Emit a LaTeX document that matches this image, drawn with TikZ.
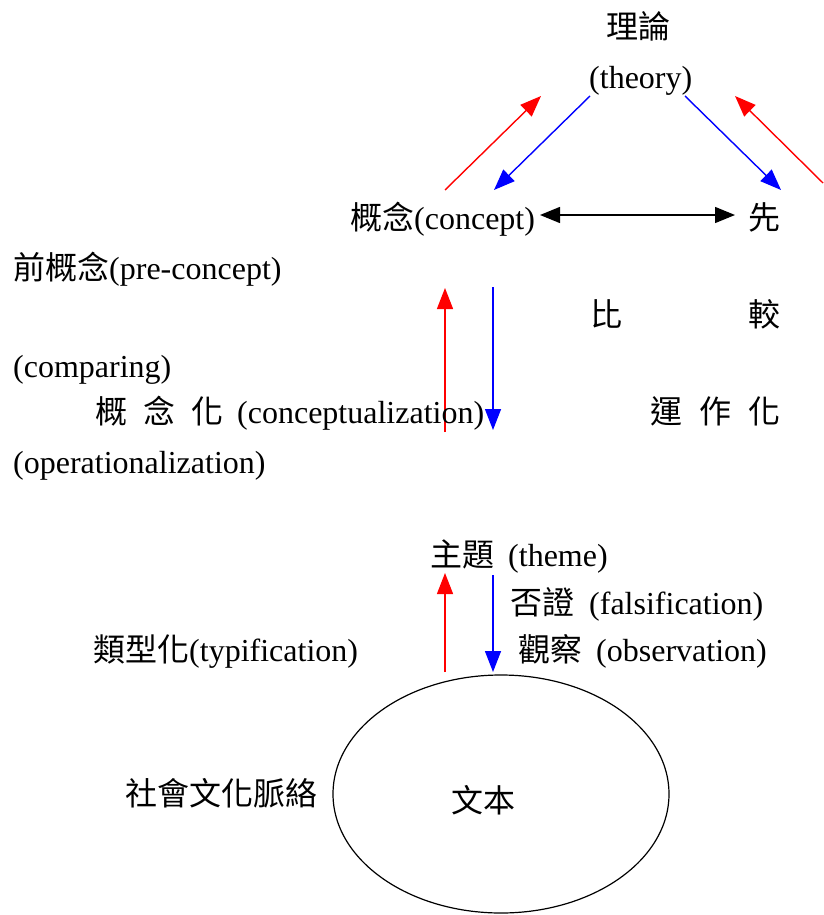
\documentclass[tikz,border=0pt]{standalone}
\usepackage{fontspec}
\setmainfont{Liberation Serif}
\newfontfamily\cjk{Noto Sans CJK TC}
\usepackage{tikz}
\usetikzlibrary{arrows.meta, shapes.geometric}
\pgfdeclarelayer{edgelayer}
\pgfdeclarelayer{nodelayer}
\pgfsetlayers{edgelayer,nodelayer,main}
\newcommand{\zh}[1]{{\cjk #1}}
\tikzstyle{none}=[inner sep=0pt]
\tikzstyle{txt}=[inner sep=0pt, anchor=west, font=\fontsize{32}{36}\selectfont, text height=24pt, text depth=8pt]
\tikzstyle{oval}=[ellipse, draw=black, line width=1.2pt, inner sep=0pt, minimum width=336pt, minimum height=238pt]
\tikzstyle{redarrow}=[draw=red, line width=1.4pt, -{Triangle[length=21pt, width=16pt]}]
\tikzstyle{bluearrow}=[draw=blue, line width=1.4pt, -{Triangle[length=21pt, width=16pt]}]
\tikzstyle{blackarrow}=[draw=black, line width=1.4pt, {Triangle[length=20pt, width=16pt]}-{Triangle[length=20pt, width=16pt]}]

\begin{document}
\begin{tikzpicture}[x=1pt, y=-1pt]
			\useasboundingbox (0,0) rectangle (823,915);
			\begin{pgfonlayer}{nodelayer}
			\node [style=txt] (0) at (606, 31) {\zh{理論}};
			\node [style=txt] (1) at (589, 81) {(theory)};
			\node [style=txt] (2) at (350, 221) {\zh{概念}(concept)};
			\node [style=txt] (3) at (748, 221) {\zh{先}};
			\node [style=txt] (4) at (13, 271) {\zh{前概念}(pre-concept)};
			\node [style=txt] (5) at (590, 318) {\zh{比}\hspace{126pt}\zh{較}};
			\node [style=txt] (6) at (13, 369) {(comparing)};
			\node [style=txt] (7) at (95, 415) {\zh{概}\hspace{16pt}\zh{念}\hspace{16pt}\zh{化}\hspace{14pt}(conceptualization)};
			\node [style=txt] (8) at (650, 415) {\zh{運}\hspace{17pt}\zh{作}\hspace{17pt}\zh{化}};
			\node [style=txt] (9) at (13, 465) {(operationalization)};
			\node [style=txt] (10) at (430, 558) {\zh{主題}\hspace{14pt}(theme)};
			\node [style=txt] (11) at (510, 606) {\zh{否證}\hspace{15pt}(falsification)};
			\node [style=txt] (12) at (93, 653) {\zh{類型化}(typification)};
			\node [style=txt] (13) at (518, 653) {\zh{觀察}\hspace{14pt}(observation)};
			\node [style=txt] (14) at (125, 797) {\zh{社會文化脈絡}};
			\node [style=oval] (15) at (501, 794) {};
			\node [style=txt] (16) at (451, 804) {\zh{文本}};
			\node [style=none] (20) at (445, 190) {};
			\node [style=none] (21) at (541, 96) {};
			\node [style=none] (22) at (590, 96) {};
			\node [style=none] (23) at (494, 190) {};
			\node [style=none] (24) at (685, 96) {};
			\node [style=none] (25) at (781, 190) {};
			\node [style=none] (26) at (823, 183) {};
			\node [style=none] (27) at (735, 96) {};
			\node [style=none] (28) at (540, 215) {};
			\node [style=none] (29) at (735, 215) {};
			\node [style=none] (30) at (445, 432) {};
			\node [style=none] (31) at (445, 288) {};
			\node [style=none] (32) at (493, 287) {};
			\node [style=none] (33) at (493, 430) {};
			\node [style=none] (34) at (445, 672) {};
			\node [style=none] (35) at (445, 573) {};
			\node [style=none] (36) at (493, 575) {};
			\node [style=none] (37) at (493, 672) {};
			\end{pgfonlayer}
			\begin{pgfonlayer}{edgelayer}
			\draw [style=redarrow] (20.center) to (21.center);
			\draw [style=bluearrow] (22.center) to (23.center);
			\draw [style=bluearrow] (24.center) to (25.center);
			\draw [style=redarrow] (26.center) to (27.center);
			\draw [style=blackarrow] (28.center) to (29.center);
			\draw [style=redarrow] (30.center) to (31.center);
			\draw [style=bluearrow] (32.center) to (33.center);
			\draw [style=redarrow] (34.center) to (35.center);
			\draw [style=bluearrow] (36.center) to (37.center);
			\end{pgfonlayer}
			\end{tikzpicture}
\end{document}
